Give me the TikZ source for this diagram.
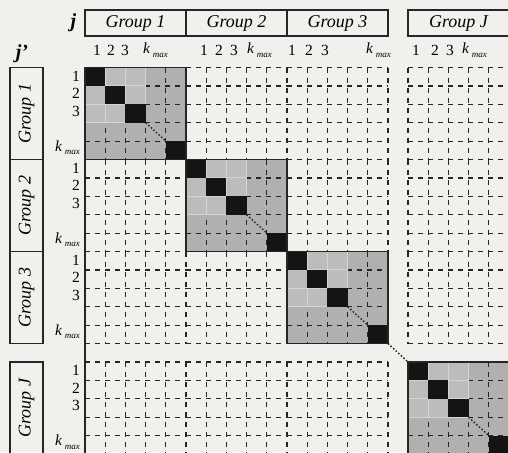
\documentclass[tikz,border=0pt]{standalone}
\usepackage{fontspec}
\setmainfont{Liberation Serif}
\usetikzlibrary{positioning}

\definecolor{paper}{RGB}{240,240,237}
\definecolor{ink}{RGB}{38,38,38}
\definecolor{blockgray}{RGB}{176,176,176}
\definecolor{cellgray}{RGB}{188,188,188}

\newcommand{\kmax}{\textit{k}\hspace{2.5pt}\raisebox{-0.5ex}{\fontsize{9}{9}\selectfont\itshape max}}

\begin{document}
\begin{tikzpicture}[x=1pt, y=-1pt,
	grid/.style={ink, line width=1.2pt, dash pattern=on 5pt off 5pt},
	frame/.style={ink, line width=1.4pt},
	grouphead/.style={draw=ink, line width=1.3pt, minimum width=101pt, minimum height=26pt, inner sep=0pt, font=\fontsize{18}{19}\selectfont\itshape},
	groupside/.style={grouphead, rotate=90, minimum width=92pt, minimum height=33pt},
	idx/.style={inner sep=0pt, font=\fontsize{15.5}{16}\selectfont},
	bigj/.style={inner sep=0pt, font=\fontsize{20}{21}\selectfont\bfseries\itshape}]
	
	% -------------------------------------------------------------------------
	% 1. 参数
	% -------------------------------------------------------------------------
	\def\cw{20.2}  % 单元宽
	\def\ch{18.4}  % 单元高
	
	\useasboundingbox (0,0) rectangle (508,452);
	\fill[paper] (0,0) rectangle (508,452);
	\clip (0,0) rectangle (508,452);
	
	% -------------------------------------------------------------------------
	% 2. 组标题 (上方 j, 左侧 j')
	% -------------------------------------------------------------------------
	\foreach \g/\x in {1/85, 2/186, 3/287, J/408}
		\node[grouphead] (h\g) at (\x+50.5, 23) {Group \g};
	\foreach \g/\y in {1/67.5, 2/159.5, 3/251.5, J/362}
		\node[groupside] (s\g) at (26.5, \y+46) {Group \g};
	
	\node[bigj, left=8pt of h1] (jcol) {j};
	\node[bigj] (jrow) at (22, 54) {j'};
	
	% 列序号
	\foreach \g/\a/\b/\c/\k in {1/97/111/125/143, 2/204/219/234/247, 3/292/309/325/366, J/416/435/450/462} {
		\node[idx] (c\g a) at (\a, 50) {1};
		\node[idx] (c\g b) at (\b, 50) {2};
		\node[idx] (c\g c) at (\c, 50) {3};
		\node[idx, anchor=west] (ck\g) at (\k, 50) {\kmax};
	}
	% 行序号
	\foreach \g/\y in {1/67.5, 2/159.5, 3/251.5, J/362} {
		\node[idx, anchor=east] (r\g a) at (80, \y+8.5) {1};
		\node[idx, anchor=east] (r\g b) at (80, \y+26) {2};
		\node[idx, anchor=east] (r\g c) at (80, \y+43.5) {3};
		\node[idx, anchor=east] (rk\g) at (80, \y+80) {\kmax};
	}
	
	% -------------------------------------------------------------------------
	% 3. 非对角块: 虚线网格
	% -------------------------------------------------------------------------
	\foreach \x in {85, 186, 287, 408}
		\foreach \y in {67.5, 159.5, 251.5, 362}
			\foreach \k in {0,...,5} {
				\draw[grid] (\x+\k*\cw, \y) -- ++(0, 5*\ch);
				\draw[grid] (\x, \y+\k*\ch) -- ++(5*\cw, 0);
			}
	
	% -------------------------------------------------------------------------
	% 4. 对角块: 灰底 + 黑色对角单元
	% -------------------------------------------------------------------------
	\foreach \x/\y in {85/67.5, 186/159.5, 287/251.5, 408/362} {
		\fill[blockgray] (\x,\y) rectangle ++(5*\cw, 5*\ch);
		\foreach \k in {0,...,5} {
			\draw[grid] (\x+\k*\cw, \y) -- ++(0, 5*\ch);
			\draw[grid] (\x, \y+\k*\ch) -- ++(5*\cw, 0);
		}
		\foreach \i in {0,1,2}
			\foreach \j in {0,1,2}
				\filldraw[fill=cellgray, draw=blockgray!55!white, line width=1pt]
				(\x+\i*\cw, \y+\j*\ch) rectangle ++(\cw, \ch);
		\foreach \i in {0,1,2}
			\fill[black!92] (\x+\i*\cw, \y+\i*\ch) rectangle ++(\cw, \ch);
		\fill[black!92] (\x+4*\cw, \y+4*\ch) rectangle ++(\cw, \ch);
		\draw[ink, line width=1.5pt, dotted] (\x+3*\cw, \y+3*\ch) -- ++(\cw, \ch);
		\draw[frame] (\x,\y) rectangle ++(5*\cw, 5*\ch);
	}
	
	% 第3组与第J组之间的省略点线
	\coordinate (end3) at (287+5*\cw, 251.5+5*\ch);
	\coordinate (startJ) at (408, 362);
	\draw[ink, line width=1.5pt, dotted] (end3) -- (startJ);
	
	% 矩阵左边框
	\draw[frame] (85, 67.5) -- (85, 452);
	
\end{tikzpicture}
\end{document}
